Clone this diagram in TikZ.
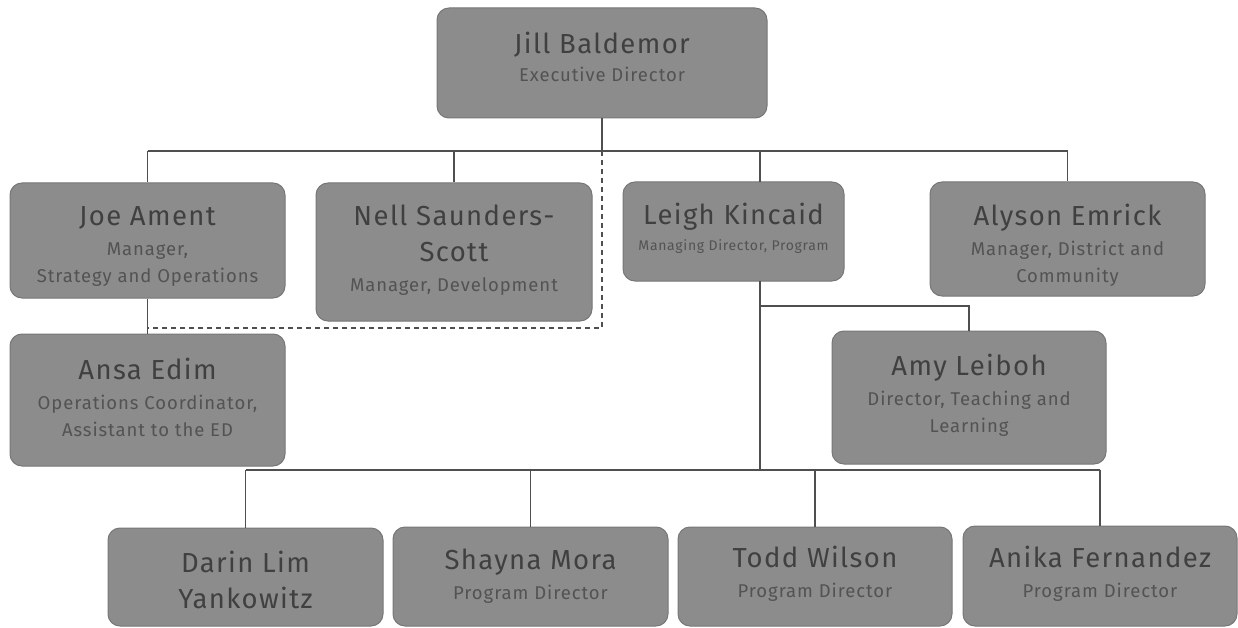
\documentclass[tikz,border=0pt]{standalone}
\usepackage{fontspec}
\setmainfont{Fira Sans}[LetterSpace=5]
\definecolor{boxfill}{HTML}{8C8C8C}
\definecolor{boxborder}{HTML}{777777}
\definecolor{namecol}{HTML}{404040}
\definecolor{subcol}{HTML}{535353}
\definecolor{linecol}{HTML}{4F4F4F}
\newcommand{\nm}{\color{namecol}\fontsize{27.5}{36}\selectfont}
\newcommand{\sbt}{\par\vspace{3pt}\color{subcol}\fontsize{18.5}{27}\selectfont}
\newcommand{\sbs}{\par\color{subcol}\fontsize{14}{26}\selectfont}
% #1: extra space below (moves the text up by half of it), #2: width, #3: text
\newcommand{\bx}[3][0pt]{\begin{minipage}{#2}\centering #3\par\vspace*{#1}\end{minipage}}
\begin{document}
\begin{tikzpicture}[x=1pt,y=-1pt,
  orgbox/.style={draw=boxborder, fill=boxfill, rounded corners=12pt, line width=1pt,
    inner sep=0pt, align=center, text=namecol},
  conn/.style={draw=linecol, line width=1.4pt},
  dotconn/.style={draw=linecol, line width=1.4pt, dash pattern=on 5pt off 4pt}]
\useasboundingbox (0,0) rectangle (1238,628);
\fill[white] (0,0) rectangle (1238,628);

\node[orgbox, minimum width=330pt, minimum height=110pt] (jill) at (602,63)
  {\bx[12pt]{320pt}{\nm Jill Baldemor\par\vspace{-2pt}\sbt Executive Director}};
\node[orgbox, minimum width=275pt, minimum height=115pt] (joe) at (147.5,240.5)
  {\bx[-11pt]{268pt}{\nm Joe Ament\sbt Manager,\par Strategy and Operations}};
\node[orgbox, minimum width=276pt, minimum height=138pt] (nell) at (454,252)
  {\bx[4pt]{268pt}{\nm Nell Saunders-\par Scott\sbt Manager, Development}};
\node[orgbox, minimum width=221pt, minimum height=99pt] (leigh) at (733.5,231.5)
  {\bx[7pt]{214pt}{\nm Leigh Kincaid\sbs Managing Director, Program}};
\node[orgbox, minimum width=275pt, minimum height=114pt] (alyson) at (1067.5,239)
  {\bx[-12pt]{268pt}{\nm Alyson Emrick\sbt Manager, District and\par Community}};
\node[orgbox, minimum width=275pt, minimum height=132pt] (ansa) at (147.5,400)
  {\bx[6pt]{268pt}{\nm Ansa Edim\sbt Operations Coordinator,\par Assistant to the ED}};
\node[orgbox, minimum width=274pt, minimum height=133pt] (amy) at (969,397.5)
  {\bx[5pt]{268pt}{\nm Amy Leiboh\sbt Director, Teaching and\par Learning}};
\node[orgbox, minimum width=275pt, minimum height=98pt] (darin) at (245.5,577)
  {\bx[-6pt]{268pt}{\nm Darin Lim\par Yankowitz}};
\node[orgbox, minimum width=275pt, minimum height=99pt] (shayna) at (530.5,576.5)
  {\bx{268pt}{\nm Shayna Mora\sbt Program Director}};
\node[orgbox, minimum width=274pt, minimum height=99pt] (todd) at (815,576.5)
  {\bx[5pt]{268pt}{\nm Todd Wilson\sbt Program Director}};
\node[orgbox, minimum width=274pt, minimum height=100pt] (anika) at (1100,576)
  {\bx[5pt]{268pt}{\nm Anika Fernandez\sbt Program Director}};

% bus coordinates
\coordinate (topbus) at (602,151);
\coordinate (leightop) at (760,182);
\coordinate (leighbot) at (760,281);
\coordinate (amybus) at (760,306);
\coordinate (lowbus) at (760,470);
\coordinate (dashcorner) at (602,328);
\coordinate (dashend) at (147,328);

\draw[conn] (jill.south) -- (topbus);
\draw[conn] (joe.north |- topbus) -- (alyson.north |- topbus);
\draw[conn] (joe.north |- topbus) -- (joe.north);
\draw[conn] (nell.north |- topbus) -- (nell.north);
\draw[conn] (leightop |- topbus) -- (leightop);
\draw[conn] (alyson.north |- topbus) -- (alyson.north);

\draw[conn] (joe.south) -- (ansa.north);
\draw[dotconn] (topbus) -- (dashcorner) -- (dashend);

\draw[conn] (leighbot) -- (lowbus);
\draw[conn] (amybus) -- (amybus -| amy.north) -- (amy.north);
\draw[conn] (darin.north |- lowbus) -- (anika.north |- lowbus);
\draw[conn] (darin.north |- lowbus) -- (darin.north);
\draw[conn] (shayna.north |- lowbus) -- (shayna.north);
\draw[conn] (todd.north |- lowbus) -- (todd.north);
\draw[conn] (anika.north |- lowbus) -- (anika.north);
\end{tikzpicture}
\end{document}
